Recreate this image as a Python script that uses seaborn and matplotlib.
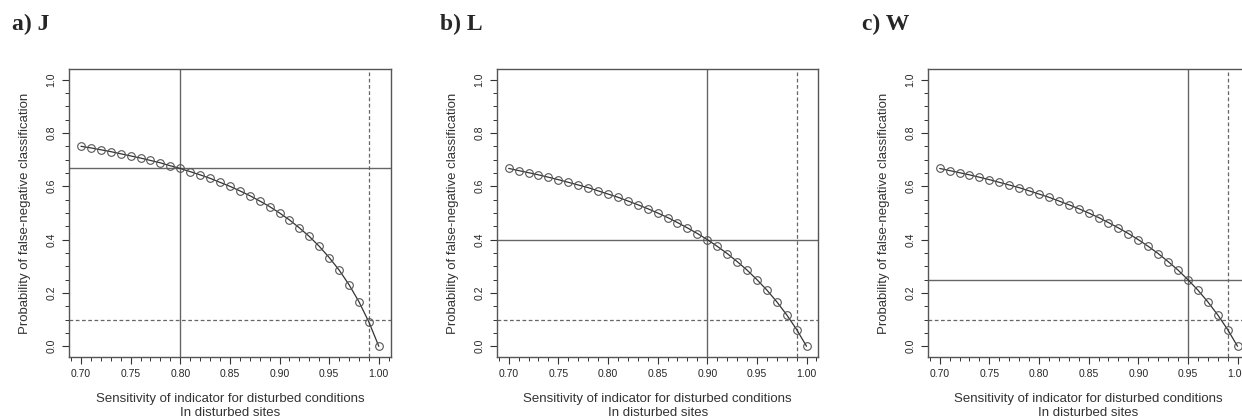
import matplotlib
matplotlib.use('Agg')
import matplotlib.pyplot as plt
import seaborn as sns
import pandas as pd
from matplotlib.ticker import MultipleLocator

sens = [0.70, 0.71, 0.72, 0.73, 0.74, 0.75, 0.76, 0.77, 0.78, 0.79, 0.80,
        0.81, 0.82, 0.83, 0.84, 0.85, 0.86, 0.87, 0.88, 0.89, 0.90,
        0.91, 0.92, 0.93, 0.94, 0.95, 0.96, 0.97, 0.98, 0.99, 1.00]

prob_j = [0.750, 0.744, 0.737, 0.730, 0.722, 0.714, 0.706, 0.697, 0.688, 0.677, 0.667,
          0.655, 0.643, 0.630, 0.615, 0.600, 0.583, 0.565, 0.545, 0.524, 0.500,
          0.474, 0.444, 0.412, 0.375, 0.333, 0.286, 0.231, 0.167, 0.091, 0.000]
prob_l = [0.667, 0.659, 0.651, 0.643, 0.634, 0.625, 0.615, 0.605, 0.595, 0.583, 0.571,
          0.559, 0.545, 0.531, 0.516, 0.500, 0.483, 0.464, 0.444, 0.423, 0.400,
          0.375, 0.348, 0.318, 0.286, 0.250, 0.211, 0.167, 0.118, 0.063, 0.000]
prob_w = list(prob_l)

titles = ['a) J', 'b) L', 'c) W']
series = [prob_j, prob_l, prob_w]
cut_x = [0.80, 0.90, 0.95]
cut_y = [0.667, 0.40, 0.25]
target_x = 0.99
target_y = 0.10

sns.set_style('ticks')
plt.rcParams['font.family'] = ['Liberation Sans', 'DejaVu Sans']

fig = plt.figure(figsize=(12.42, 4.18), dpi=100)
lefts = [0.0556, 0.400, 0.747]
title_x = [0.010, 0.354, 0.694]

for i in range(3):
    ax = fig.add_axes([lefts[i], 0.146, 0.259, 0.689])
    df = pd.DataFrame({'s': sens, 'p': series[i]})
    ax.axvline(cut_x[i], color='#666666', lw=1.0, zorder=1)
    ax.axhline(cut_y[i], color='#666666', lw=1.0, zorder=1)
    ax.axvline(target_x, color='#666666', lw=0.9, ls=(0, (3, 2)), zorder=1)
    ax.axhline(target_y, color='#666666', lw=0.9, ls=(0, (3, 2)), zorder=1)
    sns.lineplot(data=df, x='s', y='p', ax=ax, color='#333333', lw=0.9,
                 marker='o', markersize=5.5, markerfacecolor='none',
                 markeredgecolor='#555555', markeredgewidth=0.8, zorder=3)
    ax.set_xlim(0.688, 1.012)
    ax.set_ylim(-0.04, 1.04)
    ax.set_xticks([0.70, 0.75, 0.80, 0.85, 0.90, 0.95, 1.00])
    ax.set_xticklabels(['0.70', '0.75', '0.80', '0.85', '0.90', '0.95', '1.00'])
    ax.xaxis.set_minor_locator(MultipleLocator(0.01))
    ax.set_yticks([0.0, 0.2, 0.4, 0.6, 0.8, 1.0])
    ax.set_yticklabels(['0.0', '0.2', '0.4', '0.6', '0.8', '1.0'], rotation=90, va='center')
    ax.yaxis.set_minor_locator(MultipleLocator(0.05))
    ax.tick_params(which='major', length=5, width=0.8, labelsize=7.5, color='#333333', pad=4)
    ax.tick_params(which='minor', length=3, width=0.7, color='#333333')
    for sp in ax.spines.values():
        sp.set_visible(True)
        sp.set_color('#555555')
        sp.set_linewidth(1.0)
    ax.set_xlabel('Sensitivity of indicator for disturbed conditions\nIn disturbed sites',
                  fontsize=9.5, color='#333333', labelpad=10, linespacing=1.15)
    ax.set_ylabel('Probability of false-negative classification', fontsize=9.5,
                  color='#333333', labelpad=11)
    fig.text(title_x[i], 0.942, titles[i], fontsize=17, fontweight='bold',
             family='Liberation Serif', va='center', ha='left')

fig.savefig('out.png', dpi=100)
